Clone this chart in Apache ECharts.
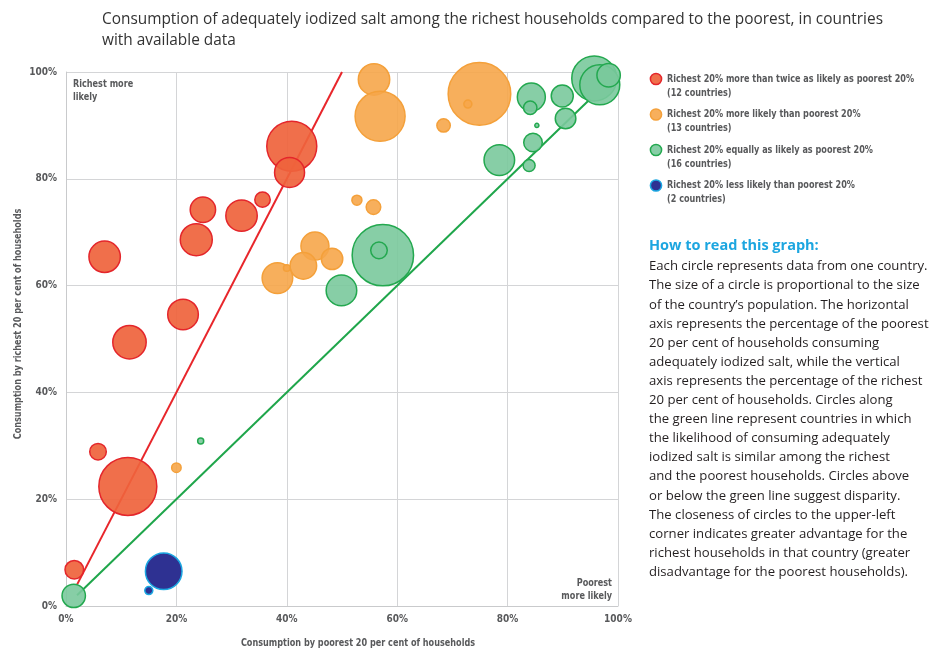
<!DOCTYPE html>
<html><head><meta charset="utf-8">
<script src="https://cdn.jsdelivr.net/npm/echarts@6/dist/echarts.min.js"></script>
<style>html,body{margin:0;padding:0;background:#fff}#c{width:947px;height:649px}</style>
</head><body><div id="c"></div>
<script>
// ---- data (x = poorest 20%, y = richest 20%, pop = relative population) ----
const categories = [
  'Richest 20% more than twice as likely as poorest 20%',
  'Richest 20% more likely than poorest 20%',
  'Richest 20% equally as likely as poorest 20%',
  'Richest 20% less likely than poorest 20%'
];
const redPoorest = [40.9, 40.5, 35.6, 31.8, 24.8, 23.6, 7.0, 21.2, 11.5, 5.8, 11.2, 1.5];
const redRichest = [86.1, 81.2, 76.1, 73.1, 74.2, 68.6, 65.4, 54.6, 49.4, 28.9, 22.4, 6.8];
const redPop     = [892, 321, 85, 352, 230, 365, 352, 334, 398, 98, 1200, 123];

const orangePoorest = [55.8, 56.9, 74.9, 72.8, 68.4, 52.7, 55.7, 45.1, 48.2, 43.0, 38.3, 40.0, 20.0];
const orangeRichest = [98.6, 91.7, 95.9, 94.0, 90.0, 76.0, 74.7, 67.4, 65.0, 63.7, 61.4, 63.3, 25.9];
const orangePop     = [352, 892, 1398, 23, 64, 36, 76, 280, 163, 252, 334, 16, 32];

const greenPoorest = [57.4, 56.7, 49.9, 78.5, 83.9, 84.6, 85.3, 84.3, 84.1, 89.9, 90.5, 95.7, 96.7, 98.3, 1.4, 24.4];
const greenRichest = [65.7, 66.6, 59.1, 83.5, 82.5, 86.8, 90.0, 95.3, 93.3, 95.5, 91.3, 98.8, 97.6, 99.4, 1.9, 30.9];
const greenPop     = [1345, 98, 334, 334, 51, 123, 6, 280, 64, 173, 151, 722, 571, 195, 195, 13];

const bluePoorest = [17.7, 15.0];
const blueRichest = [6.5, 2.9];
const bluePop     = [478, 23];

// reference lines: richest twice as likely (y = 2x) and equal likelihood (y = x)
const twiceLine = [[2, 4], [50, 100]];
const equalLine = [[2, 2], [95, 95]];

const axisTicks = [0, 20, 40, 60, 80, 100];

const howToTitle = 'How to read this graph:';
const howToLines = [
  'Each circle represents data from one country.',
  'The size of a circle is proportional to the size',
  'of the country\u2019s population. The horizontal',
  'axis represents the percentage of the poorest',
  '20 per cent of households consuming',
  'adequately iodized salt, while the vertical',
  'axis represents the percentage of the richest',
  '20 per cent of households. Circles along',
  'the green line represent countries in which',
  'the likelihood of consuming adequately',
  'iodized salt is similar among the richest',
  'and the poorest households. Circles above',
  'or below the green line suggest disparity.',
  'The closeness of circles to the upper-left',
  'corner indicates greater advantage for the',
  'richest households in that country (greater',
  'disadvantage for the poorest households).'
];

// ---- build ----
const cond = "'DejaVu Sans Condensed','DejaVu Sans',sans-serif";
const body = "'Open Sans','Noto Sans',sans-serif";
const labelColor = '#58595b';
const NARROW = 0.82;

function zip(xs, ys, ps) { return xs.map((x, i) => [x, ys[i], ps[i]]); }
const groups = [
  { data: zip(redPoorest, redRichest, redPop), fill: 'rgba(239,99,60,0.92)', stroke: '#e4262b' },
  { data: zip(orangePoorest, orangeRichest, orangePop), fill: 'rgba(246,166,74,0.9)', stroke: '#f4a03a' },
  { data: zip(greenPoorest, greenRichest, greenPop), fill: 'rgba(122,201,156,0.9)', stroke: '#23a84f' },
  { data: zip(bluePoorest, blueRichest, bluePop), fill: '#2e3192', stroke: '#1ba7e1' }
];

const series = [
  { name: 'twice', type: 'line', data: twiceLine, symbol: 'none', silent: true, z: 1,
    lineStyle: { color: '#e8262b', width: 2 } },
  { name: 'equal', type: 'line', data: equalLine, symbol: 'none', silent: true, z: 1,
    lineStyle: { color: '#1fa64b', width: 2 } }
];
categories.forEach((c, i) => {
  series.push({
    name: c, type: 'scatter', z: 3,
    data: groups[i].data,
    symbolSize: d => Math.sqrt(d[2]) * 1.674,
    itemStyle: { color: groups[i].fill, borderColor: groups[i].stroke, borderWidth: 1.5, opacity: 1 },
    emphasis: { disabled: true }
  });
});

const axisCommon = {
  type: 'value', min: 0, max: 100, interval: 20,
  axisLine: { show: true, lineStyle: { color: '#c9cacc', width: 1 } },
  axisTick: { show: false },
  splitLine: { show: true, lineStyle: { color: '#d4d5d7', width: 1 } },
  axisLabel: { formatter: v => axisTicks.includes(v) ? v + '%' : '', fontFamily: cond, fontWeight: 'bold',
               fontSize: 10, color: labelColor }
};

const condText = (x, y, text, extra) => Object.assign({
  type: 'text', x: x, y: y, scaleX: NARROW, silent: true,
  style: Object.assign({ text: text, fontFamily: cond, fontWeight: 'bold', fontSize: 11, lineHeight: 13.5,
                         fill: labelColor, align: 'left', verticalAlign: 'top' }, extra || {})
});

const graphics = [
  condText(73, 77, 'Richest more\nlikely'),
  condText(612, 576, 'Poorest\nmore likely', { align: 'right' }),
  condText(358, 643, 'Consumption by poorest 20 per cent of households', { align: 'center', verticalAlign: 'middle' }),
  Object.assign(condText(18, 324, 'Consumption by richest 20 per cent of households',
                         { align: 'center', verticalAlign: 'middle' }), { rotation: Math.PI / 2 }),
  { type: 'text', x: 649, y: 238, silent: true,
    style: { text: howToTitle, fontFamily: body, fontWeight: 'bold', fontSize: 14.5, fill: '#1ca6e0' } },
  { type: 'text', x: 649, y: 257, silent: true,
    style: { text: howToLines.join('\n'), fontFamily: body, fontSize: 13.15, lineHeight: 19.1, fill: '#231f20' } }
];
// legend (built from the categories and group sizes)
categories.forEach((c, i) => {
  const cy = 79 + i * 35.5;
  graphics.push({ type: 'circle', shape: { cx: 656, cy: cy, r: 5.6 }, silent: true,
    style: { fill: groups[i].fill, stroke: groups[i].stroke, lineWidth: 1.5 } });
  graphics.push(condText(667, cy - 7, c + '\n(' + groups[i].data.length + ' countries)', { lineHeight: 14 }));
});

const chart = echarts.init(document.getElementById('c'), null, { renderer: 'canvas' });
chart.setOption({
  animation: false,
  backgroundColor: '#fff',
  title: {
    text: 'Consumption of adequately iodized salt among the richest households compared to the poorest, in countries\nwith available data',
    left: 102, top: 9, padding: 0,
    textStyle: { fontFamily: body, fontWeight: 'normal', fontSize: 15.4, lineHeight: 21, color: '#333' }
  },
  grid: { left: 66, right: 329, top: 72, bottom: 43, containLabel: false, outerBoundsMode: 'none' },
  xAxis: Object.assign({}, axisCommon, {
    axisLabel: Object.assign({}, axisCommon.axisLabel, { margin: 8 })
  }),
  yAxis: Object.assign({}, axisCommon, {
    axisLabel: Object.assign({}, axisCommon.axisLabel, { margin: 9 })
  }),
  graphic: graphics,
  series: series
});
</script></body></html>
